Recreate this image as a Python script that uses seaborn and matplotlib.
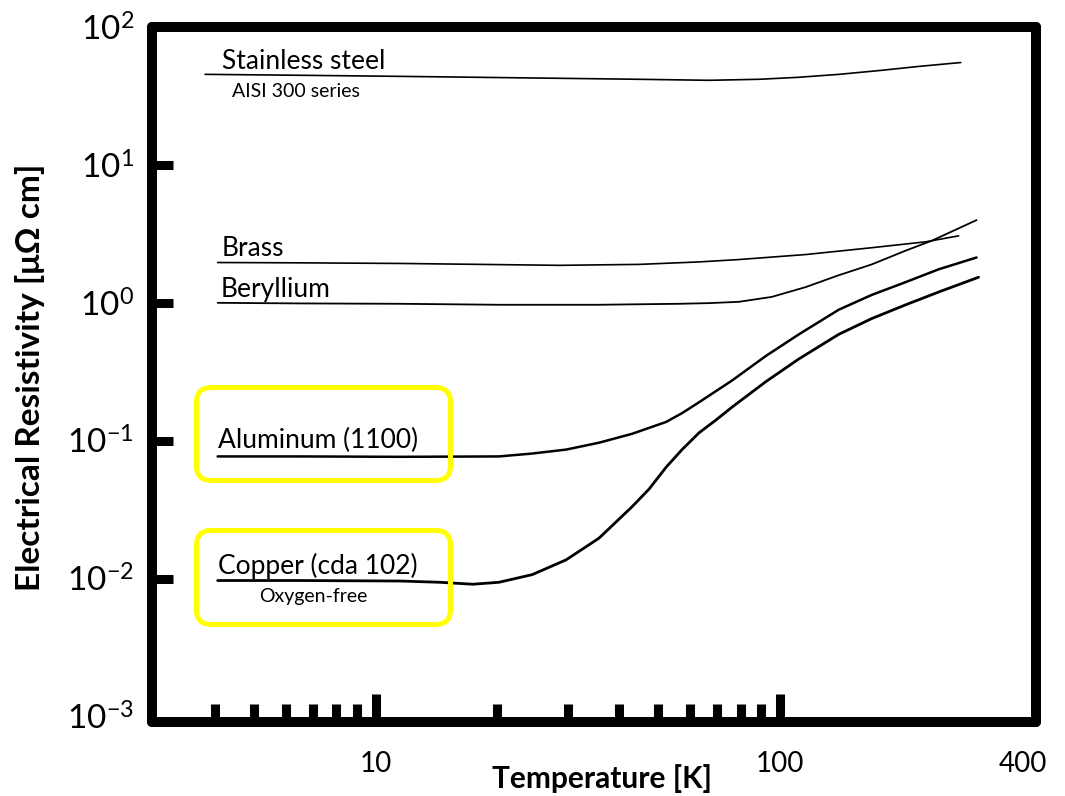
import numpy as np
import pandas as pd
import matplotlib
matplotlib.use("Agg")
import matplotlib.pyplot as plt
from matplotlib.patches import FancyBboxPatch
from matplotlib.ticker import NullLocator, NullFormatter, FixedLocator
import seaborn as sns

# ---------------- data ----------------
materials = ["Stainless steel", "Brass", "Beryllium", "Aluminum (1100)", "Copper (cda 102)"]
sublabels = ["AISI 300 series", "", "", "", "Oxygen-free"]

T_steel = [3.79, 6.49, 11.5, 18.1, 28.5, 44.9, 66.8, 88.7, 111, 140, 179, 220, 280]
rho_steel = [45.4, 44.7, 43.9, 43.2, 42.5, 41.8, 41.1, 41.8, 43.2, 45.4, 48.6, 51.8, 55.3]

T_brass = [4.07, 6.49, 11.5, 18.1, 28.5, 44.9, 63.1, 79.2, 115.9, 168.7, 229.4, 276.7]
rho_brass = [1.96, 1.95, 1.93, 1.90, 1.87, 1.90, 1.98, 2.06, 2.24, 2.51, 2.77, 3.06]

T_be = [4.07, 6.49, 11.5, 20.2, 35.7, 56.3, 66.8, 79.2, 95.5, 115.9, 139.8, 168.7, 204.7, 237.3, 306.5]
rho_be = [1.00, 0.99, 0.984, 0.968, 0.968, 0.984, 0.995, 1.017, 1.104, 1.301, 1.585, 1.899,
          2.391, 2.818, 3.981]

T_al = [4.07, 6.49, 11.5, 20.2, 24.4, 29.6, 35.7, 43.1, 52.3, 57.3, 63.1, 76.1, 92.3, 111.4,
        139.8, 168.7, 204.7, 247.0, 306.5]
rho_al = [0.0769, 0.0769, 0.0764, 0.0769, 0.0807, 0.0862, 0.0967, 0.1122, 0.1367, 0.1585,
          0.190, 0.2728, 0.4114, 0.5906, 0.891, 1.141, 1.413, 1.750, 2.132]

T_cu = [4.07, 6.49, 11.5, 14.4, 17.4, 20.2, 24.4, 29.6, 35.7, 43.1, 47.5, 52.3, 57.3,
        63.1, 69.5, 76.1, 92.3, 111.4, 139.8, 168.7, 204.7, 247.0, 310.0]
rho_cu = [0.00968, 0.00968, 0.0096, 0.0094, 0.0091, 0.0094, 0.01068, 0.01367,
          0.01963, 0.03322, 0.04467, 0.06415, 0.08624, 0.1141, 0.1413, 0.1749, 0.268,
          0.3916, 0.5906, 0.7686, 0.9676, 1.198, 1.533]

x_major = [10, 100, 400]
x_major_labels = ["10", "100", "400"]
x_minor = [4, 5, 6, 7, 8, 9, 20, 30, 40, 50, 60, 70, 80, 90]
y_major = [1e-3, 1e-2, 1e-1, 1e0, 1e1, 1e2]
y_major_labels = [r"$\mathregular{10^{-3}}$", r"$\mathregular{10^{-2}}$", r"$\mathregular{10^{-1}}$",
                  r"$\mathregular{10^{0}}$", r"$\mathregular{10^{1}}$", r"$\mathregular{10^{2}}$"]

series = [(T_steel, rho_steel), (T_brass, rho_brass), (T_be, rho_be), (T_al, rho_al), (T_cu, rho_cu)]
frames = []
for name, (t, r) in zip(materials, series):
    frames.append(pd.DataFrame({"material": name, "T": t, "rho": r}))
df = pd.concat(frames, ignore_index=True)

# ---------------- style ----------------
sns.set_theme(style="white")
plt.rcParams["font.family"] = ["Lato", "DejaVu Sans"]
plt.rcParams["mathtext.fontset"] = "custom"
plt.rcParams["mathtext.rm"] = "Lato"
plt.rcParams["mathtext.it"] = "Lato:italic"
plt.rcParams["mathtext.bf"] = "Lato:bold"

fig = plt.figure(figsize=(10.65, 7.96), dpi=100)
ax = fig.add_axes([0.1427, 0.093, 0.8301, 0.873])

line_widths = {"Stainless steel": 1.2, "Brass": 1.2, "Beryllium": 1.3,
               "Aluminum (1100)": 1.8, "Copper (cda 102)": 2.0}
for name in materials:
    sub = df[df["material"] == name]
    sns.lineplot(data=sub, x="T", y="rho", ax=ax, color="black",
                 linewidth=line_widths[name], estimator=None, sort=False, legend=False)

ax.set_xscale("log")
ax.set_yscale("log")
ax.set_xlim(2.8, 430)
ax.set_ylim(10 ** -3.04, 100)

# ticks
ax.xaxis.set_major_locator(FixedLocator(x_major))
ax.set_xticklabels(x_major_labels)
ax.xaxis.set_minor_locator(FixedLocator(x_minor))
ax.xaxis.set_minor_formatter(NullFormatter())
ax.yaxis.set_major_locator(FixedLocator(y_major))
ax.set_yticklabels(y_major_labels)
ax.yaxis.set_minor_locator(NullLocator())

ax.tick_params(axis="x", which="major", direction="in", length=20, width=6.5,
               color="black", labelsize=20, pad=21, bottom=True, top=False)
ax.tick_params(axis="x", which="minor", direction="in", length=13, width=6.5,
               color="black", bottom=True, top=False)
ax.tick_params(axis="y", which="major", direction="in", length=15, width=6.5,
               color="black", labelsize=24, pad=13, left=True, right=False)
for lab in ax.get_yticklabels() + ax.get_xticklabels():
    lab.set_color("black")

ticks_x = ax.xaxis.get_major_ticks()
ticks_x[2].tick1line.set_visible(False)
ticks_y = ax.yaxis.get_major_ticks()
ticks_y[0].tick1line.set_visible(False)
ticks_y[-1].tick1line.set_visible(False)

for sp in ax.spines.values():
    sp.set_visible(True)
    sp.set_linewidth(7.2)
    sp.set_color("black")
    sp.set_capstyle("round")

ax.grid(False)
ax.set_facecolor("white")

# axis labels
ax.set_xlabel("Temperature [K]", fontsize=21.5, fontweight="bold", color="black")
ax.set_ylabel("Electrical Resistivity [μΩ cm]", fontsize=24, fontweight="bold", color="black")
ax.xaxis.set_label_coords(0.509, -0.082)
ax.xaxis.label.set_va("center")
ax.yaxis.set_label_coords(-0.138, 0.496)
ax.yaxis.label.set_va("center")

# curve labels, anchored at each curve's first point
label_offsets = {"Stainless steel": (12, 4), "Brass": (3, 5), "Beryllium": (2, 4),
                 "Aluminum (1100)": (0, 6), "Copper (cda 102)": (0, 4.5)}
sub_offsets = {"Stainless steel": (19, -16.5), "Copper (cda 102)": (30, -15.5)}
for name, subl in zip(materials, sublabels):
    sub = df[df["material"] == name]
    x0, y0 = sub["T"].iloc[0], sub["rho"].iloc[0]
    ax.annotate(name, xy=(x0, y0), xytext=label_offsets[name], textcoords="offset points",
                ha="left", va="baseline", fontsize=19, color="black")
    if subl:
        ax.annotate(subl, xy=(x0, y0), xytext=sub_offsets[name], textcoords="offset points",
                    ha="left", va="baseline", fontsize=14, color="black")

# yellow highlight boxes (axes-fraction layout)
for (bx, by, bw, bh) in [(0.0503, 0.3475, 0.2874, 0.1338), (0.0503, 0.1403, 0.2874, 0.1353)]:
    box = FancyBboxPatch((bx, by), bw, bh, boxstyle="round,pad=0,rounding_size=0.017",
                         mutation_aspect=884 / 695, transform=ax.transAxes,
                         facecolor="none", edgecolor="#FFFF00", linewidth=3.6, zorder=5,
                         clip_on=False)
    ax.add_patch(box)

fig.savefig("out.png", dpi=100, facecolor="white")
